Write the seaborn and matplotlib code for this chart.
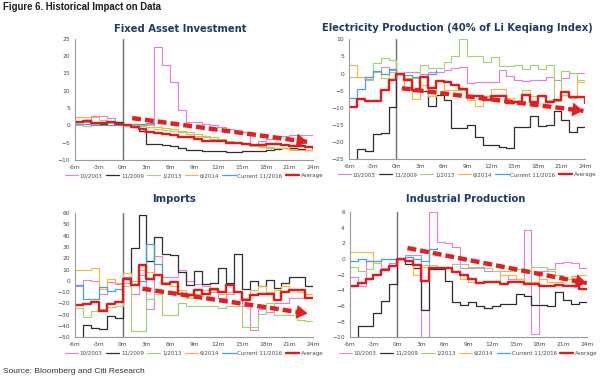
import numpy as np
import matplotlib
matplotlib.use("Agg")
import matplotlib.pyplot as plt
import seaborn as sns

# months relative to the event, -6m .. 24m
months = list(range(-6, 25))
tick_months = list(range(-6, 25, 3))
tick_labels = [f"{m}m" for m in tick_months]

series_names = ["10/2003", "11/2009", "1/2013", "6/2014", "Current 11/2016", "Average"]
series_colors = ["#e67ee6", "#2e2e2e", "#9fd36c", "#f6b637", "#3ba7de", "#e5191c"]
series_widths = [0.8, 0.9, 0.8, 0.8, 0.9, 1.7]

nan = np.nan

# Fixed Asset Investment
fai_2003 = [1, 1, 2.7, 2.7, 2, 1, 0, 0, 0, 0.5, 22.7, 17.5, 12.5, 4.5, 1, 1, 0.5, 0, -0.5, -1,
            -1.5, -2, -5.5, -4.5, -4, -3.5, -3, -2.8, -2.8, -2.7, -2.7]
fai_2009 = [1, 1.5, 0.5, 0.5, 1, 1, 0, -0.5, -1.5, -5.4, -5.5, -5.8, -6, -6.5, -7, -7.2, -7.3,
            -7.5, -7.5, -7.7, -7.8, -7.5, -7.5, -7.3, -7, -6.8, -6.5, -6.5, -6.8, -7, -7]
fai_2013 = [0, -0.3, 0.5, 0.8, 0.8, 0.5, 0, 0.3, 0.5, 0, -0.5, -0.8, -1, -1.5, -2, -2.5, -3,
            -3.5, -4, -4.5, -5, -5.5, -6, -6.2, -6.5, -6.5, -6.7, -6.8, -7, -7, -7]
fai_2014 = [2.5, 2.5, 2.3, 1.5, 1, 0.5, 0, 0, -0.3, -0.5, -1, -1.3, -1.5, -2, -2.5, -3, -3.5,
            -4, -4.5, -5, -5, -5.5, -5.8, -6, -6.3, -6.5, -6.7, -7, -7.2, -7.2, -7.3]
fai_2016 = [0.5, 0.3, 0, 0, 0, 0, 0, 0.3, 0.5, 0.8, 0.5] + [nan] * 20
fai_avg = [1, 1.3, 0.7, 0.8, 1, 0.5, 0, -0.5, -1, -2, -2.3, -2.5, -2.7, -3.5, -3.5, -4, -4.5,
           -4.5, -4.5, -5, -5, -5.5, -5.7, -5.7, -5.5, -5.5, -5.8, -6, -6, -6.2, -6.5]
fai_trend_x = [1.2, 23.3]
fai_trend_y = [2.1, -4.8]

# Electricity Production
elec_2003 = [-1, -1, -1.5, 0.5, 2, 1, 0, 0.5, 0.5, 0, 0.5, 0.5, 1, 1.5, 2, -2.8, -2.5, -2.5,
             -2.5, 1, -0.7, -1.9, -2.3, -2, -2, -1.1, -2, -1.2, 0.3, 0.3, -2.3]
elec_2009 = [-28, -22, -22.5, -17.7, -17.5, -9.8, 0, -2, -5, -5, -9.5, -6.2, -7.7, -15.8, -15.8,
             -15, -18.6, -21, -21, -21.5, -21.8, -15.5, -15.5, -12.4, -15.3, -15, -11, -13.5,
             -17, -15.5, -15.5]
elec_2013 = [-1, -1, -2, 3, 4.5, 4, 0, -1.3, -1.3, 2.5, 1.5, 1.5, 3.5, 5, 10, 5, 5, 3.5, 4.8,
             2.2, 2.2, 2.5, 1.3, 2.5, 1.3, 2.5, -8, 0.6, 0.3, -2.6, -2.6]
elec_2014 = [2.5, -1, -1, 0.5, -1.2, 0.4, 0, -3.8, -7.5, -3.3, -6.7, -2.3, -4.8, -4.8, -4.8, -7.7,
             -9.6, -6.7, -4.6, -4.6, -7.2, -8.2, -4.8, -6.7, -6.7, -7.7, -7.7, -6.2, -7.2, -1.9,
             -7.7]
elec_2016 = [-7, -4.5, -1, 0.7, 0, 1.2, 0, -0.3, -1, -0.7, 0, 1] + [nan] * 19
elec_avg = [-9.8, -7.5, -8, -8, -4.8, -2, 0, -1.9, -4.8, -1.1, -4.3, -2.3, -2.6, -3.3, -4.6, -6.7,
            -6.7, -7.7, -6.7, -6.7, -8.5, -8.2, -6.2, -8.2, -6.7, -8.2, -7.7, -5.5, -6.9, -6.9,
            -8.7]
elec_trend_x = [0.7, 23.8]
elec_trend_y = [-4.3, -10.9]

# Imports
imp_2003 = [-5, 1, 0, -12, -1, -3, -2, -12, 5, -25, 22, 3, 3, 10, 0, -3, -5, -10, -15, -12, -10,
            -22, -44, -25, -28, -20, -20, -15, -15, -15, -15]
imp_2009 = [-55, -39.6, -42, -43, -31, -33, 2, 29, 58.5, 18, 39, 24, 22.5, 8, -4, 8.5, -3, -1.5,
            11, -2, 23.5, -7, 0, -5, 1, -6, -2, 3, 3, -5, -5]
imp_2013 = [-24, -32, -27, -25, -23, -22, -5, -44.6, -44.6, -16, -12, -30, -30, -20, -22, -22,
            -22, -22, -24, -22, -22, -41, -41, -29, -20, -30, -30, -30, -35, -36, -36]
imp_2014 = [10, 10, 11, -7, 2, -2, 7, 0, 10, 8, 6, -1, -5, -8, -15, -12, -8, -8, -12, -10, -9,
            -15, -8, -5, -10, -8, -5, -7, -10, -12, -12]
imp_2016 = [-4, -15.8, -15.8, -5.4, -9.3, -7, 3, -3, 0, 33, 15, 5] + [nan] * 19
imp_avg = [-21.8, -21, -18.8, -26.8, -20.3, -18.8, 2, -3.3, 13.9, 2, 5.6, -2.4, -0.9, -11.3,
           -12.8, -8.4, -11.3, -6.9, -9.9, -3.9, -9.9, -17.3, -12.8, -11.3, -11.3, -17.3, -9.9,
           -8.4, -8.4, -15, -15]
imp_trend_x = [2.5, 23.3]
imp_trend_y = [-7, -29]

# Industrial Production
ip_2003 = [-2.3, -3.4, -0.2, -0.3, -1.2, -0.5, 0, 0.5, 0.5, -11, 6, 2.2, 2, 1.5, -1.2, -1.2, -1,
           -1.5, -1.5, -2, -2.5, -2.5, 3.7, -9.6, -1.5, -1.3, -0.5, -0.4, -0.5, -1.2, -1.2]
ip_2009 = [-11, -8.6, -8.6, -6.9, -5.4, -3.2, 0, -0.7, -1.1, -6.5, -1.3, -1.3, -2.8, -5.5, -5.9,
           -5.5, -6, -6.3, -6, -5.8, -5.8, -4.5, -4.7, -5.9, -5.9, -6, -4.2, -5.3, -5.8, -5.5,
           -5.5]
ip_2013 = [-1, -1.5, -1.3, -0.5, 0, 0, 0, 0.3, -0.8, -0.8, -0.8, -1, -1, -0.7, -0.7, -1, -1.2,
           -1.2, -1.5, -1.5, -1.5, -1.3, -1.5, -1, -1, -1.5, -2, -2.5, -2.5, -3, -3]
ip_2014 = [0.9, 0.9, 0.9, -0.5, 0, 0, 0, 0.3, -2, -1, -1, -1.2, -1.2, -1.5, -2.5, -3, -3, -3, -3,
           -2, -2, -2.5, -3, -3, -2.5, -3, -3, -2.5, -2.2, -2, -2]
ip_2016 = [-0.2, 0, -0.3, -0.3, 0, 0, 0, 0.2, 0, -0.3, 1.3, 1.4] + [nan] * 19
ip_avg = [-3.4, -3.1, -2.6, -2, -1.4, -0.9, 0, -0.3, -0.8, -2.8, -1.1, -1.1, -1.2, -1.7, -2.1,
          -2.5, -3.1, -3, -3, -3.2, -3, -3, -3.2, -3.2, -3.4, -3.4, -3.3, -3.4, -3.5, -3.8, -3.8]
ip_trend_x = [1.3, 24]
ip_trend_y = [1.4, -3.1]

panels = [
    ("Fixed Asset Investment", [fai_2003, fai_2009, fai_2013, fai_2014, fai_2016, fai_avg],
     (-10, 25), range(-10, 26, 5), fai_trend_x, fai_trend_y,
     [0.125, 0.577, 0.397, 0.320], (0.301, 0.922)),
    ("Electricity Production (40% of Li Keqiang Index)",
     [elec_2003, elec_2009, elec_2013, elec_2014, elec_2016, elec_avg],
     (-25, 10), range(-25, 11, 5), elec_trend_x, elec_trend_y,
     [0.582, 0.579, 0.393, 0.317], (0.762, 0.925)),
    ("Imports", [imp_2003, imp_2009, imp_2013, imp_2014, imp_2016, imp_avg],
     (-50, 60), range(-50, 61, 10), imp_trend_x, imp_trend_y,
     [0.125, 0.108, 0.397, 0.328], (0.29, 0.474)),
    ("Industrial Production", [ip_2003, ip_2009, ip_2013, ip_2014, ip_2016, ip_avg],
     (-10, 6), range(-10, 7, 2), ip_trend_x, ip_trend_y,
     [0.583, 0.108, 0.395, 0.331], (0.776, 0.474)),
]

sns.set_theme(style="white")
plt.rcParams["font.family"] = ["DejaVu Sans"]

fig = plt.figure(figsize=(6, 3.78), dpi=100)
arrow_red = "#e3201c"
title_blue = "#1f3a68"
tick_grey = "#4a4a4a"

for title, data, ylim, yticks, tx, ty, rect, tpos in panels:
    ax = fig.add_axes(rect)
    for name, vals, col, lw in zip(series_names, data, series_colors, series_widths):
        sns.lineplot(x=months, y=vals, color=col, lw=lw, drawstyle="steps-post",
                     ax=ax, label=name)
    ax.axvline(0, color="#707070", lw=1.0, zorder=1)

    # trend arrow
    ax.plot(tx, ty, color=arrow_red, lw=3.2, ls=(0, (2.0, 0.9)),
            dash_capstyle="butt", zorder=6)
    base_x = tx[1] - 0.06 * (tx[1] - tx[0])
    base_y = ty[1] - 0.06 * (ty[1] - ty[0])
    ax.annotate("", xy=(tx[1], ty[1]), xytext=(base_x, base_y),
                arrowprops=dict(arrowstyle="-|>,head_length=0.8,head_width=0.5",
                                color=arrow_red, lw=0, shrinkA=0, shrinkB=0,
                                mutation_scale=10), zorder=7)

    ax.set_xlim(-6, 24)
    ax.set_ylim(*ylim)
    ax.set_xticks(tick_months)
    ax.set_xticklabels(tick_labels)
    ax.set_yticks(list(yticks))
    ax.set_xlabel("")
    ax.set_ylabel("")
    ax.tick_params(axis="both", labelsize=4.3, colors=tick_grey, length=2, width=0.5, pad=1.5)
    for s in ["top", "right"]:
        ax.spines[s].set_visible(False)
    for s in ["left", "bottom"]:
        ax.spines[s].set_color("#9a9a9a")
        ax.spines[s].set_linewidth(0.8)

    ax.legend(loc="center", bbox_to_anchor=(0.5, -0.13), ncol=6, fontsize=4.0,
              frameon=False, handlelength=2.4, handletextpad=0.3, columnspacing=0.6,
              labelcolor=tick_grey)

    fig.text(tpos[0], tpos[1], title, ha="center", va="center", fontsize=7.2,
             fontweight="bold", color=title_blue)

fig.text(0.005, 0.982, "Figure 6. Historical Impact on Data", ha="left", va="center",
         fontsize=6.9, fontweight="bold", color="#1a1a1a", family="Liberation Sans")
fig.text(0.005, 0.016, "Source: Bloomberg and Citi Research", ha="left", va="center",
         fontsize=6.0, color="#333333", family="Liberation Sans")

fig.savefig("out.png", dpi=100, facecolor="white")
